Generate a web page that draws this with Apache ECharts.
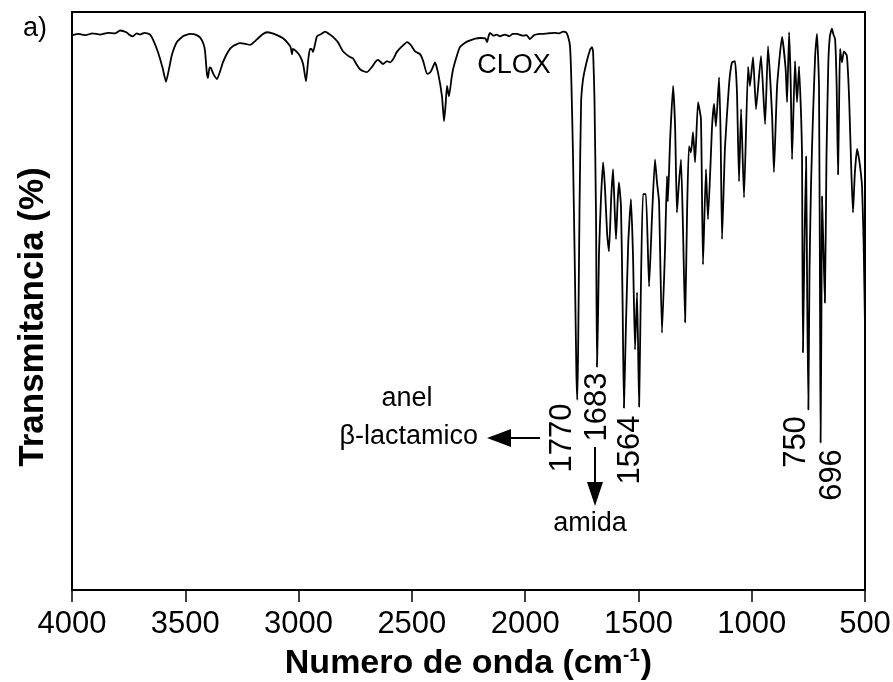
<!DOCTYPE html>
<html><head><meta charset="utf-8">
<script src="https://cdn.jsdelivr.net/npm/echarts@6/dist/echarts.min.js"></script>
<style>html,body{margin:0;padding:0;background:#fff}#c{width:893px;height:682px}</style>
</head><body><div id="c"></div>
<script>
// IR spectrum of CLOX: [wavenumber cm-1, transmittance (arbitrary %)]
const spectrumHigh = [
 [4000,96.0],[3970,96.2],[3940,96.0],[3910,96.3],[3876,96.1],[3840,96.4],[3810,96.3],[3788,96.8],[3760,96.5],[3745,96.0],[3731,95.8],[3715,96.3],[3700,96.1],[3680,96.4],[3656,96.1],[3640,95.0],[3620,93.0],[3600,90.3],[3585,87.9],[3570,90.5],[3559,92.6],[3537,94.8],[3510,95.8],[3479,96.2],[3455,96.1],[3435,95.6],[3420,94.5],[3413,93.3],[3405,89.5],[3400,88.6],[3393,90.4],[3387,90.3],[3375,89.2],[3360,88.4],[3345,89.9],[3334,91.3],[3310,93.2],[3289,94.1],[3259,94.6],[3235,94.5],[3214,94.3],[3183,95.3],[3160,96.1],[3139,96.5],[3115,96.3],[3095,96.0],[3070,95.5],[3051,94.8],[3035,93.9],[3029,92.7],[3025,93.6],[3010,93.2],[2994,92.4],[2980,91.0],[2967,88.0],[2958,91.5],[2950,93.6],[2943,93.6],[2936,93.1],[2919,95.8],[2900,96.2],[2883,96.6],[2865,96.2],[2848,95.7],[2825,94.7],[2804,93.2],[2773,92.2],[2760,92.0],[2745,91.0],[2729,90.1],[2710,89.7],[2698,89.6],[2676,90.5],[2660,91.4],[2649,91.7],[2627,91.0],[2610,91.5],[2596,91.3],[2580,92.0],[2566,93.1],[2545,94.0],[2521,94.8],[2505,94.3],[2486,93.2],[2464,92.7],[2450,91.5],[2433,89.3],[2420,89.5],[2411,90.1],[2398,91.3],[2385,89.6],[2367,85.4],[2358,81.1],[2351,84.0],[2345,87.2],[2336,85.4],[2325,88.5],[2318,90.1],[2300,92.6],[2288,93.9],[2265,94.7],[2243,95.1],[2220,95.4],[2199,95.5],[2175,95.4],[2168,94.8],[2160,96.0],[2155,96.4],[2140,95.9],[2125,96.1],[2111,95.8],[2090,96.1],[2070,95.8],[2055,96.2],[2036,96.2],[2010,95.9],[1993,96.0],[1979,95.3],[1960,96.0],[1934,96.2],[1900,96.3],[1870,96.4],[1850,96.3],[1833,96.6],[1820,96.5],[1811,95.8]
];
const spectrumLow = [
 [1802,94.1],[1796,88.0],[1789,75.7],[1780,54.0],[1774,38.0],[1770,32.9],[1766,42.0],[1760,66.0],[1753,84.4],[1745,88.2],[1736,90.1],[1723,92.2],[1712,93.6],[1705,93.9],[1700,93.1],[1694,85.0],[1687,64.1],[1683,38.6],[1678,48.0],[1674,58.4],[1665,68.0],[1656,74.0],[1648,69.8],[1638,61.5],[1630,58.6],[1620,68.0],[1612,72.8],[1605,66.0],[1599,60.7],[1592,67.0],[1586,70.5],[1577,66.4],[1570,50.0],[1564,31.5],[1555,46.0],[1545,60.0],[1533,67.6],[1524,58.0],[1515,41.6],[1506,51.5],[1497,31.7],[1490,50.0],[1480,68.5],[1467,68.5],[1453,52.5],[1440,64.6],[1427,74.5],[1418,70.5],[1409,67.2],[1396,44.5],[1383,58.4],[1374,71.6],[1370,67.2],[1360,78.0],[1347,87.2],[1338,80.0],[1330,65.3],[1322,70.0],[1312,74.5],[1303,62.0],[1294,46.3],[1285,66.0],[1277,76.8],[1268,75.7],[1259,79.2],[1250,74.0],[1237,84.4],[1224,81.5],[1215,56.3],[1202,72.8],[1193,64.1],[1175,80.2],[1166,84.1],[1158,80.2],[1144,88.7],[1137,78.0],[1131,60.7],[1118,76.6],[1100,87.5],[1087,91.3],[1074,91.5],[1065,86.0],[1056,70.7],[1047,83.2],[1034,67.9],[1016,90.5],[1008,87.2],[994,92.2],[981,83.2],[959,92.4],[941,80.6],[928,94.1],[910,82.0],[902,72.3],[888,87.2],[866,95.7],[850,90.0],[844,84.4],[835,96.5],[828,88.0],[822,74.5],[809,91.5],[800,84.4],[791,90.6],[782,82.0],[778,75.7],[774,41.1],[767,60.0],[760,75.0],[755,50.0],[750,31.2],[745,55.0],[738,70.5],[730,81.5],[720,92.5],[712,96.2],[703,87.2],[698,45.0],[696,25.5],[692,50.0],[690,68.1],[684,60.0],[677,49.7],[670,75.0],[662,91.0],[655,95.8],[646,97.1],[640,96.2],[632,95.3],[625,87.0],[619,71.9],[614,85.0],[610,93.6],[602,91.3],[593,93.2],[580,92.4],[570,85.0],[560,72.0],[553,65.3],[545,72.0],[535,76.3],[526,74.5],[518,72.0],[513,69.8],[506,60.0],[500,45.6]
];
const xTickValues = [4000,3500,3000,2500,2000,1500,1000,500];
const peakLabels = ['1770','1683','1564','750','696'];
const sampleName = 'CLOX';
const yTitle = 'Transmitancia (%)';

const FONT = '"Liberation Sans", Arial, sans-serif';
const chart = echarts.init(document.getElementById('c'));
const option = {
  backgroundColor: '#fff',
  animation: false,
  grid: {left: 72, right: 28, top: 12, bottom: 92, containLabel: false, outerBoundsMode: 'none'},
  xAxis: [{
    type: 'value', inverse: true, min: 500, max: 4000, interval: 500,
    axisLine: {show: true, onZero: false, lineStyle: {color: '#000', width: 2}},
    axisTick: {show: true, inside: false, length: 12, lineStyle: {color: '#000', width: 1.5}},
    axisLabel: {color: '#000', fontSize: 31, fontFamily: FONT, margin: 19,
      formatter: v => xTickValues.indexOf(v) >= 0 ? String(v) : '',
      showMinLabel: true, showMaxLabel: true, hideOverlap: false},
    splitLine: {show: false},
    name: '{a|Numero de onda (cm}{s|-1}{a|)}',
    nameLocation: 'middle', nameGap: 56,
    nameTextStyle: {rich: {
      a: {fontSize: 34, fontWeight: 'bold', fontFamily: FONT, color: '#000'},
      s: {fontSize: 19, fontWeight: 'bold', fontFamily: FONT, color: '#000', verticalAlign: 'top', padding: [0,1,16,0]}
    }}
  },{
    type: 'value', inverse: true, min: 500, max: 4000, position: 'top',
    axisLine: {show: true, onZero: false, lineStyle: {color: '#000', width: 2}},
    axisTick: {show: false}, axisLabel: {show: false}, splitLine: {show: false}
  }],
  yAxis: [{
    type: 'value', min: 0, max: 100,
    axisLine: {show: true, onZero: false, lineStyle: {color: '#000', width: 2}},
    axisTick: {show: false}, axisLabel: {show: false}, splitLine: {show: false}
  },{
    type: 'value', min: 0, max: 100, position: 'right',
    axisLine: {show: true, onZero: false, lineStyle: {color: '#000', width: 2}},
    axisTick: {show: false}, axisLabel: {show: false}, splitLine: {show: false}
  }],
  series: [{
    type: 'line', xAxisIndex: 0, yAxisIndex: 0,
    data: spectrumHigh.concat(spectrumLow),
    showSymbol: false, smooth: 0.15,
    lineStyle: {color: '#000', width: 1.8}
  }],
  graphic: []
};
chart.setOption(option);

const txt = (x, y, s, size, rot, align, weight) => ({
  type: 'text', x: x, y: y, rotation: rot || 0,
  style: {text: s, fontSize: size, fontFamily: FONT, fontWeight: weight || 'normal', fill: '#000', align: align || 'center', verticalAlign: 'middle'}
});
const g = [];
g.push(txt(33, 317, yTitle, 35, Math.PI/2, 'center', 'bold'));
g.push(txt(35, 29, 'a)', 27));
g.push(txt(514, 66, sampleName, 27));
g.push(txt(407, 399, 'anel', 27));
g.push(txt(478, 437, 'β-lactamico', 27, 0, 'right'));
g.push({type: 'line', shape: {x1: 540, y1: 438, x2: 505, y2: 438}, style: {stroke: '#000', lineWidth: 2}});
g.push({type: 'polygon', shape: {points: [[487,438],[511,429],[511,447]]}, style: {fill: '#000'}});
g.push(txt(562, 438, peakLabels[0], 31, Math.PI/2));
g.push(txt(597, 407, peakLabels[1], 31, Math.PI/2));
g.push({type: 'line', shape: {x1: 595, y1: 447, x2: 595, y2: 486}, style: {stroke: '#000', lineWidth: 2}});
g.push({type: 'polygon', shape: {points: [[595,506],[587,482],[603,482]]}, style: {fill: '#000'}});
g.push(txt(590, 524, 'amida', 27));
g.push(txt(630, 450, peakLabels[2], 31, Math.PI/2));
g.push(txt(796, 442, peakLabels[3], 31, Math.PI/2));
g.push(txt(832, 475, peakLabels[4], 31, Math.PI/2));
chart.setOption({graphic: g});
</script>
</body></html>
